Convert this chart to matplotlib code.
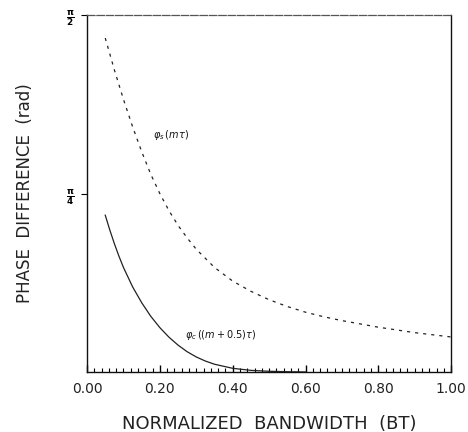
import numpy as np
import matplotlib
matplotlib.use("Agg")
import matplotlib.pyplot as plt
from matplotlib.ticker import MultipleLocator

# --- valeurs ---
bt_s = [0.05, 0.075, 0.10, 0.125, 0.15, 0.175, 0.20, 0.225, 0.25, 0.275, 0.30,
        0.35, 0.40, 0.45, 0.50, 0.55, 0.60, 0.65, 0.70, 0.80, 0.90, 1.00]
phi_s = [1.47, 1.33, 1.20, 1.08, 0.97, 0.87, 0.785, 0.71, 0.645, 0.59, 0.54,
         0.46, 0.40, 0.355, 0.318, 0.288, 0.263, 0.243, 0.226, 0.197, 0.173, 0.154]

bt_c = [0.05, 0.0625, 0.075, 0.0875, 0.10, 0.125, 0.15, 0.175, 0.20, 0.225,
        0.25, 0.275, 0.30, 0.325, 0.35, 0.40, 0.45, 0.50, 0.55, 0.60]
phi_c = [0.69, 0.625, 0.565, 0.51, 0.46, 0.375, 0.305, 0.245, 0.195, 0.153,
         0.118, 0.089, 0.066, 0.048, 0.034, 0.016, 0.007, 0.003, 0.001, 0.0]

x_ticks = [0.0, 0.2, 0.4, 0.6, 0.8, 1.0]
x_labels = ["0.00", "0.20", "0.40", "0.60", "0.80", "1.00"]
y_ticks = [np.pi / 4, np.pi / 2]
y_labels = [r"$\mathbf{\frac{\pi}{4}}$", r"$\mathbf{\frac{\pi}{2}}$"]

fig = plt.figure(figsize=(4.68, 4.32), dpi=100)
ax = fig.add_axes([0.186, 0.139, 0.778, 0.826])

ax.plot(bt_s, phi_s, color="#222222", linewidth=0.9, linestyle=(0, (2.5, 4)))
ax.plot(bt_c, phi_c, color="#222222", linewidth=0.9)

ax.text(0.181, 1.043, r"$\varphi_s\,(m\tau)$", fontsize=7, color="#111111",
        ha="left", va="center")
ax.text(0.269, 0.163, r"$\varphi_c\,((m+0.5)\tau)$", fontsize=7,
        color="#111111", ha="left", va="center")

ax.set_xlim(0, 1.0)
ax.set_ylim(0, np.pi / 2)

ax.set_xticks(x_ticks)
ax.set_xticklabels(x_labels, fontsize=10, color="#222222")
ax.xaxis.set_minor_locator(MultipleLocator(0.02))
ax.tick_params(axis="x", which="major", direction="in", length=5, width=1, pad=7)
ax.tick_params(axis="x", which="minor", direction="in", length=3, width=0.8)

ax.set_yticks(y_ticks)
ax.set_yticklabels(y_labels, fontsize=9)
ax.tick_params(axis="y", which="major", direction="out", length=4, width=0.8, pad=5)

for side in ["left", "bottom", "right"]:
    ax.spines[side].set_linewidth(1.0)
    ax.spines[side].set_color("#111111")
ax.spines["top"].set_linestyle((0, (6, 1.5)))
ax.spines["top"].set_color("#555555")
ax.spines["top"].set_linewidth(0.9)

ax.set_xlabel("NORMALIZED  BANDWIDTH  (BT)", fontsize=13, color="#222222",
              labelpad=14)
ax.set_ylabel("PHASE  DIFFERENCE  (rad)", fontsize=12, color="#222222",
              labelpad=14)
ax.yaxis.set_label_coords(-0.145, 0.5)

fig.savefig("out.png", dpi=100)
